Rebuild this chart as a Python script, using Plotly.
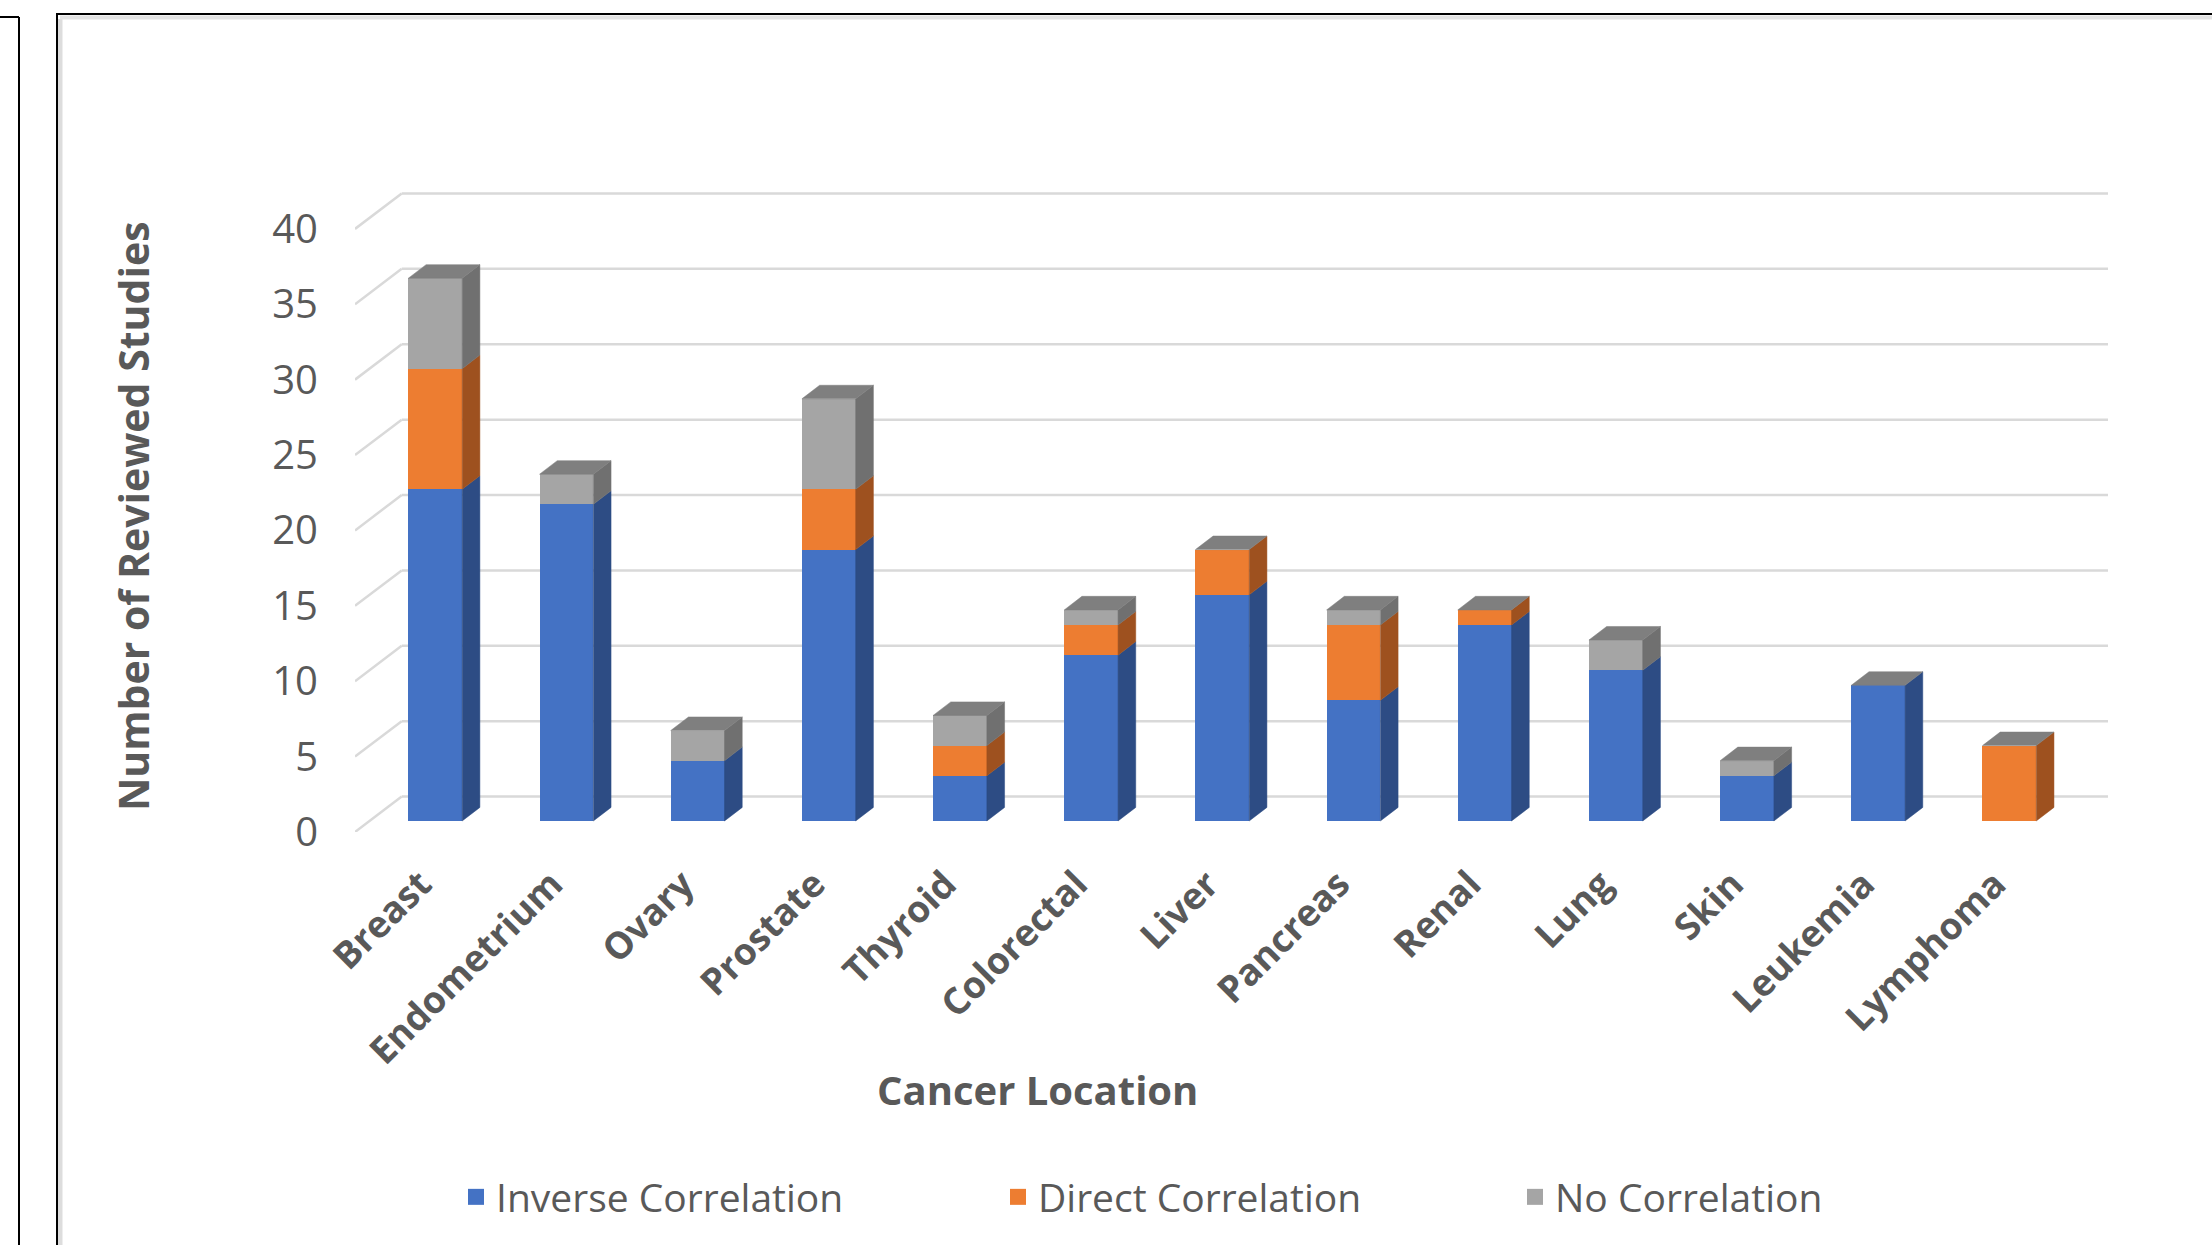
import numpy as np
import plotly.graph_objects as go

# ---------------- data ----------------
CATEGORIES = ["Breast", "Endometrium", "Ovary", "Prostate", "Thyroid", "Colorectal",
              "Liver", "Pancreas", "Renal", "Lung", "Skin", "Leukemia", "Lymphoma"]
INVERSE = [22, 21, 4, 18, 3, 11, 15, 8, 13, 10, 3, 9, 0]
DIRECT = [8, 0, 0, 4, 2, 2, 3, 5, 1, 0, 0, 0, 5]
NO_CORR = [6, 2, 2, 6, 2, 1, 0, 1, 0, 2, 1, 0, 0]
SERIES_NAMES = ["Inverse Correlation", "Direct Correlation", "No Correlation"]
Y_TICKS = [0, 5, 10, 15, 20, 25, 30, 35, 40]
X_TITLE = "Cancer Location"
Y_TITLE = "Number of Reviewed Studies"

# ---------------- style ----------------
W, H = 2212, 1245
FRONT_COLORS = ["#4472C4", "#ED7D31", "#A5A5A5"]
SIDE_COLORS = ["#2D4C84", "#9E511F", "#707070"]
TOP_COLOR = "#7F7F7F"
GRID_COLOR = "#D9D9D9"
TEXT_COLOR = "#595959"
FONT = "Open Sans"

PLOT_L, PLOT_R, PLOT_T, PLOT_B = 355, 2108, 190, 832
X_RANGE = [-0.612, 12.752]
Y_RANGE = [-0.73, 41.85]
BAR_W = 0.41          # front face width (category units)
BAR_DX, BAR_DY = 0.135, 0.9      # depth of each column
FLOOR_DX, FLOOR_DY = 0.356, 2.35  # depth of floor / walls
FRONT_V = -0.73                   # front edge of floor relative to column base
FRONT_DEPTH = 0.31                # fraction of floor depth in front of the columns

series = [np.array(INVERSE), np.array(DIRECT), np.array(NO_CORR)]
xpos = np.arange(len(CATEGORIES), dtype=float)

fig = go.Figure()

# front faces (real bars)
for s, name, col in zip(series, SERIES_NAMES, FRONT_COLORS):
    fig.add_trace(go.Bar(x=xpos, y=s, name=name, width=BAR_W,
                         marker=dict(color=col, line=dict(width=0)),
                         showlegend=False, hoverinfo="skip"))

# side faces
bottoms = np.zeros(len(CATEGORIES))
for s, col in zip(series, SIDE_COLORS):
    xs, ys = [], []
    for x, b, v in zip(xpos, bottoms, s):
        if v <= 0:
            continue
        t = b + v
        xr = x + BAR_W / 2
        xs += [xr, xr + BAR_DX, xr + BAR_DX, xr, xr, None]
        ys += [b, b + BAR_DY, t + BAR_DY, t, b, None]
    fig.add_trace(go.Scatter(x=xs, y=ys, mode="lines", fill="toself", fillcolor=col,
                             line=dict(color=col, width=0.5), showlegend=False,
                             hoverinfo="skip"))
    bottoms = bottoms + s

# top faces
totals = bottoms
xs, ys = [], []
for x, T in zip(xpos, totals):
    xl, xr = x - BAR_W / 2, x + BAR_W / 2
    xs += [xl, xr, xr + BAR_DX, xl + BAR_DX, xl, None]
    ys += [T, T, T + BAR_DY, T + BAR_DY, T, None]
fig.add_trace(go.Scatter(x=xs, y=ys, mode="lines", fill="toself", fillcolor=TOP_COLOR,
                         line=dict(color=TOP_COLOR, width=0.5), showlegend=False,
                         hoverinfo="skip"))

# legend entries (square swatches), one legend per series
legend_ids = ["legend", "legend2", "legend3"]
for name, col, lg in zip(SERIES_NAMES, FRONT_COLORS, legend_ids):
    fig.add_trace(go.Scatter(x=[None], y=[None], mode="markers", name=name,
                             marker=dict(symbol="square", size=16, color=col),
                             legend=lg, hoverinfo="skip"))

# back-wall gridlines and side-wall diagonals
shapes = []
xl_front = X_RANGE[0]
xl_back = X_RANGE[0] + FLOOR_DX
for k in Y_TICKS:
    yf = k + FRONT_V
    yb = k + FRONT_V + FLOOR_DY
    shapes.append(dict(type="line", xref="x", yref="y", x0=xl_back, x1=X_RANGE[1],
                       y0=yb, y1=yb, layer="below",
                       line=dict(color=GRID_COLOR, width=2.5)))
    shapes.append(dict(type="line", xref="x", yref="y", x0=xl_front, x1=xl_back,
                       y0=yf, y1=yb, layer="below",
                       line=dict(color=GRID_COLOR, width=2.5)))

# page frame lines (decoration of the source screenshot)
def px(x):
    return x / W

def py(y):
    return 1 - y / H

frame = [
    ((0, 17), (19, 17), "black", 2), ((19, 17), (19, H), "black", 2),
    ((60, 19), (60, H), "#DDDDDD", 5), ((60, 17.5), (W, 17.5), "#E3E3E3", 4),
    ((57, 14), (57, H), "black", 2), ((56, 14), (W, 14), "black", 2),
]
for (a, b, c, w) in frame:
    shapes.append(dict(type="line", xref="paper", yref="paper", x0=px(a[0]), y0=py(a[1]),
                       x1=px(b[0]), y1=py(b[1]), line=dict(color=c, width=w), layer="above"))

annotations = [
    dict(text=Y_TITLE, x=px(133), y=py(516), xref="paper", yref="paper", showarrow=False,
         textangle=-90, font=dict(family=FONT, size=41, color=TEXT_COLOR, weight="bold"),
         xanchor="center", yanchor="middle"),
    dict(text=X_TITLE, x=px(1037), y=py(1089), xref="paper", yref="paper", showarrow=False,
         font=dict(family=FONT, size=40, color=TEXT_COLOR, weight="bold"),
         xanchor="center", yanchor="middle"),
]

legend_text_starts = [496, 1038, 1555]
legend_common = dict(orientation="h", yanchor="middle", y=py(1197), xanchor="left",
                     bgcolor="rgba(0,0,0,0)", borderwidth=0, itemsizing="trace",
                     font=dict(family=FONT, size=39, color=TEXT_COLOR))

fig.update_layout(
    width=W, height=H,
    margin=dict(l=0, r=0, t=0, b=0, autoexpand=False),
    paper_bgcolor="white", plot_bgcolor="white",
    barmode="stack", bargap=0,
    font=dict(family=FONT, color=TEXT_COLOR),
    showlegend=True,
    legend=dict(x=px(legend_text_starts[0] - 40), **legend_common),
    legend2=dict(x=px(legend_text_starts[1] - 40), **legend_common),
    legend3=dict(x=px(legend_text_starts[2] - 40), **legend_common),
    xaxis=dict(domain=[px(PLOT_L), px(PLOT_R)], range=X_RANGE, showgrid=False,
               zeroline=False, showline=False, tickmode="array",
               tickvals=xpos - FRONT_DEPTH * FLOOR_DX,
               ticktext=CATEGORIES, tickangle=-45, ticks="", ticklabelstandoff=22,
               tickfont=dict(family=FONT, size=37, color=TEXT_COLOR, weight="bold"),
               fixedrange=True, automargin=False),
    yaxis=dict(domain=[py(PLOT_B), py(PLOT_T)], range=Y_RANGE, showgrid=False,
               zeroline=False, showline=False, tickmode="array",
               tickvals=[k + FRONT_V for k in Y_TICKS], ticktext=[str(k) for k in Y_TICKS],
               ticks="", ticklabelstandoff=36,
               tickfont=dict(family=FONT, size=40, color=TEXT_COLOR), fixedrange=True,
               automargin=False),
    shapes=shapes,
    annotations=annotations,
    hovermode=False,
)

fig.write_html("out.html")
